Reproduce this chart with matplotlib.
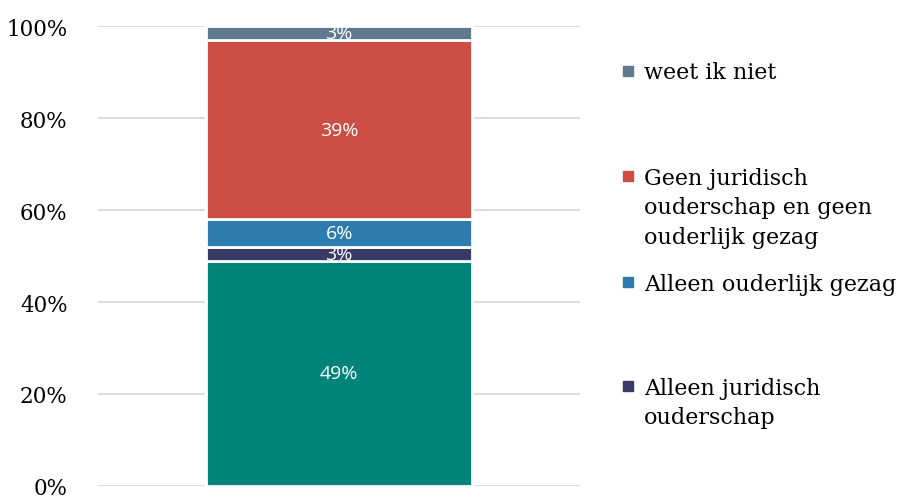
import matplotlib.pyplot as plt
from matplotlib.patches import Rectangle

# data (bottom to top)
categories = ['Juridisch ouderschap en ouderlijk gezag',
              'Alleen juridisch ouderschap',
              'Alleen ouderlijk gezag',
              'Geen juridisch ouderschap en geen ouderlijk gezag',
              'weet ik niet']
values = [49, 3, 6, 39, 3]
colors = ['#00847a', '#383b66', '#2e7bad', '#cb4d44', '#5f7a8d']
yticks = [0, 20, 40, 60, 80, 100]
ytick_labels = ['0%', '20%', '40%', '60%', '80%', '100%']

# legend entries as shown (label text, colour index, first line centre in figure fraction)
legend_items = [
    ('weet ik niet', 4, 0.857),
    ('Geen juridisch\nouderschap en geen\nouderlijk gezag', 3, 0.647),
    ('Alleen ouderlijk gezag', 2, 0.436),
    ('Alleen juridisch\nouderschap', 1, 0.229),
]

fig = plt.figure(figsize=(9.08, 5.02), dpi=100)
ax = fig.add_axes([0.108, 0.03, 0.531, 0.916])

bottom = 0
for val, col in zip(values, colors):
    ax.bar(0, val, bottom=bottom, width=0.552, color=col,
           edgecolor='white', linewidth=2, zorder=3)
    ax.text(0, bottom + val / 2, '%d%%' % val, ha='center', va='center',
            color='white', fontsize=14, family='Open Sans', zorder=4)
    bottom += val

ax.set_xlim(-0.5, 0.5)
ax.set_ylim(0, 100)
ax.set_yticks(yticks)
ax.set_yticklabels(ytick_labels, family='DejaVu Serif', fontsize=15.5)
ax.set_xticks([])
ax.tick_params(axis='y', length=0, pad=22)
ax.grid(axis='y', color='#d9d9d9', linewidth=1.3, zorder=0)
ax.set_axisbelow(True)
for s in ax.spines.values():
    s.set_visible(False)

# manual legend
for text, idx, ypos in legend_items:
    fig.patches.append(Rectangle((0.686, ypos - 0.01), 0.011, 0.02,
                                 transform=fig.transFigure,
                                 color=colors[idx]))
    fig.text(0.709, ypos + 0.019, text, ha='left', va='top',
             family='DejaVu Serif', fontsize=16, linespacing=1.45)

fig.savefig('out.png', dpi=100)
